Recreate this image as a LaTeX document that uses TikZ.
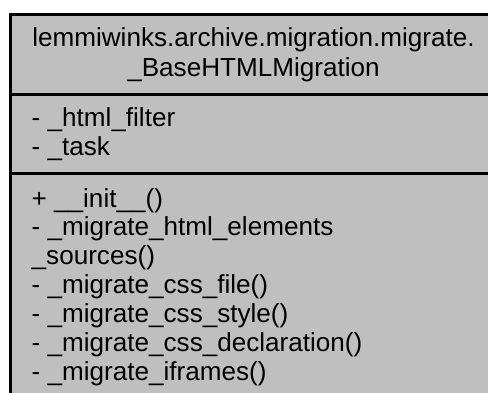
\documentclass[tikz,border=0pt]{standalone}
\usepackage{fontspec}
\setmainfont{Liberation Sans}
\definecolor{umlgray}{HTML}{BFBFBF}
\begin{document}
\begin{tikzpicture}[x=1pt,y=-1pt,
  umltext/.style={inner sep=0pt, font=\fontsize{26.1}{29.2}\selectfont, text=black},
  leftrow/.style={umltext, anchor=base west},
  titlerow/.style={umltext, anchor=base},
  border/.style={draw=black, line width=3pt},
  divider/.style={draw=black, line width=2.8pt}]
\useasboundingbox (0,0) rectangle (488,392);
\clip (0,0) rectangle (488,392);
% class box (extends beyond the visible frame to the right and bottom)
\coordinate (boxNW) at (10.5,14.3);
\coordinate (boxSE) at (497,430);
\path[border, fill=umlgray] (boxNW) rectangle (boxSE);
\coordinate (d1w) at (10.5,94.5);
\coordinate (d1e) at (497,94.5);
\coordinate (d2w) at (10.5,173.3);
\coordinate (d2e) at (497,173.3);
\path[divider] (d1w) -- (d1e);
\path[divider] (d2w) -- (d2e);
% title
\node[titlerow] (title1) at (253.5,46.8) {lemmiwinks.archive.migration.migrate.};
\node[titlerow] (title2) at (253.5,76) {\_BaseHTMLMigration};
% attributes
\node[leftrow] (attr1) at (31.5,126) {- \_html\_filter};
\node[leftrow] (attr2) at (31.5,155) {- \_task};
% methods
\node[leftrow] (m1) at (31.5,207) {+ \_\_init\_\_()};
\node[leftrow] (m2) at (31.5,235.9) {- \_migrate\_html\_elements};
\node[leftrow] (m3) at (31.5,264.8) {\_sources()};
\node[leftrow] (m4) at (31.5,293.7) {- \_migrate\_css\_file()};
\node[leftrow] (m5) at (31.5,322.6) {- \_migrate\_css\_style()};
\node[leftrow] (m6) at (31.5,351.5) {- \_migrate\_css\_declaration()};
\node[leftrow] (m7) at (31.5,380.4) {- \_migrate\_iframes()};
\end{tikzpicture}
\end{document}
